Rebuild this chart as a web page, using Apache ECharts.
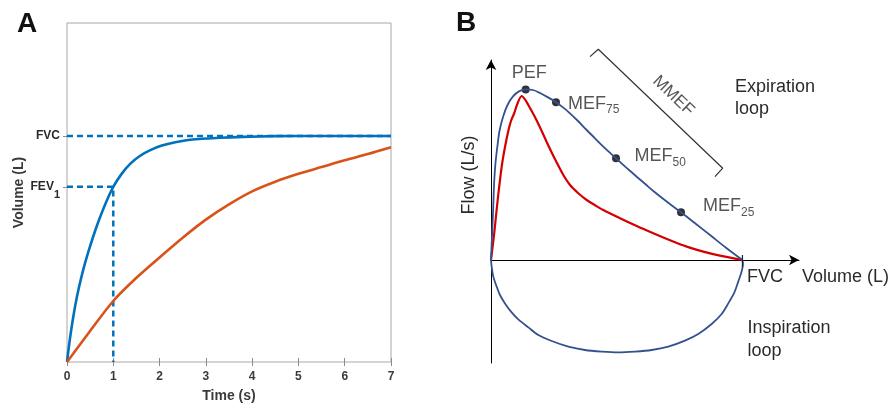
<!DOCTYPE html>
<html>
<head>
<meta charset="utf-8">
<script src="https://cdn.jsdelivr.net/npm/echarts@6/dist/echarts.min.js"></script>
<style>html,body{margin:0;padding:0;background:#fff}#c{width:891px;height:408px}</style>
</head>
<body>
<div id="c"></div>
<script>
// ---------- Panel A : volume-time ----------
const timeTicks = [0, 1, 2, 3, 4, 5, 6, 7];
const volumeTickValues = [3.1, 4.0];
const volumeTickNames = ['FEV1', 'FVC'];
const fvcA = 4.0;
const fev1A = 3.1;
const normalVolume = [[0,0],[0.05,0.33],[0.108,0.66],[0.18,1.01],[0.253,1.30],[0.35,1.63],[0.454,1.93],[0.57,2.23],[0.685,2.50],[0.84,2.82],[1.0,3.1],[1.18,3.33],[1.37,3.51],[1.58,3.65],[1.8,3.75],[2.05,3.83],[2.34,3.89],[2.62,3.93],[2.92,3.95],[3.3,3.97],[3.8,3.985],[4.5,3.997],[5.5,4.0],[7,4.0]];
const obstructedVolume = [[0,0],[0.5,0.55],[1,1.08],[1.5,1.49],[2,1.85],[2.5,2.2],[3,2.52],[3.5,2.79],[4,3.02],[4.5,3.19],[5,3.33],[5.5,3.45],[6,3.57],[6.5,3.68],[7,3.8]];

// ---------- Panel B : flow-volume ----------
const fvcB = 4.98;
const normalExpiration = [[0,0],[0.012,0.75],[0.026,1.5],[0.040,2.35],[0.051,3.15],[0.065,4.0],[0.089,4.85],[0.125,5.65],[0.168,6.45],[0.238,7.15],[0.327,7.75],[0.436,8.18],[0.555,8.43],[0.687,8.53],[0.832,8.5],[0.970,8.35],[1.129,8.13],[1.287,7.89],[1.426,7.63],[1.564,7.335],[1.723,6.95],[1.895,6.5],[2.06,6.085],[2.224,5.665],[2.476,5.085],[2.674,4.635],[2.886,4.165],[3.05,3.81],[3.214,3.45],[3.486,2.91],[3.763,2.385],[4.06,1.8],[4.357,1.21],[4.654,0.615],[4.98,0]];
const obstructedExpiration = [[0,0],[0.036,0.75],[0.071,1.5],[0.105,2.35],[0.139,3.15],[0.178,4.0],[0.222,4.85],[0.277,5.65],[0.347,6.5],[0.396,6.95],[0.461,7.35],[0.521,7.8],[0.608,8.2],[0.673,8.03],[0.739,7.75],[0.822,7.375],[0.905,6.975],[1.004,6.45],[1.103,5.9],[1.202,5.375],[1.301,4.875],[1.432,4.25],[1.565,3.75],[1.729,3.34],[1.895,3.0],[2.06,2.74],[2.224,2.5],[2.555,2.09],[2.886,1.70],[3.214,1.34],[3.545,0.99],[3.876,0.67],[4.204,0.42],[4.534,0.22],[4.98,0]];
const inspiration = [[0,0],[0.013,-0.33],[0.046,-0.83],[0.112,-1.33],[0.178,-1.75],[0.277,-2.17],[0.409,-2.62],[0.541,-2.97],[0.739,-3.37],[0.937,-3.75],[1.201,-4.05],[1.531,-4.33],[1.861,-4.5],[2.191,-4.58],[2.521,-4.62],[2.851,-4.58],[3.182,-4.5],[3.511,-4.33],[3.842,-4.03],[4.105,-3.7],[4.37,-3.2],[4.568,-2.7],[4.699,-2.17],[4.818,-1.63],[4.897,-1.08],[4.964,-0.58],[4.99,-0.2],[4.98,0]];
const keyPointNames = ['PEF', 'MEF75', 'MEF50', 'MEF25'];
const keyPointValues = [[0.687,8.53],[1.287,7.89],[2.476,5.085],[3.763,2.385]];
const mmefBracket = [[1.961,10.17],[2.125,10.54],[4.589,4.59],[4.436,4.17]];
const mmefLabelAt = [3.611, 8.21];
const fvcTick = [[fvcB,0.25],[fvcB,-0.35]];

const FONT = 'Liberation Sans, Arial, sans-serif';
const TXT = '#2a2a2a';
const A_BLUE = '#0072BD', A_ORANGE = '#D95319';
const B_BLUE = '#34518f', B_RED = '#d40000';

// label placement per key point
const keyLabelStyle = [
  {position: 'inside', offset: [3.6, -16]},
  {position: 'right', distance: 8, offset: [0, 1.5]},
  {position: 'right', distance: 8, offset: [6.5, -2.1]},
  {position: 'right', distance: 8, offset: [10, -6]}
];

function keyLabelText(name) {
  const m = name.match(/^([A-Z]+)(\d*)$/);
  return m[2] ? '{m|' + m[1] + '}{s|' + m[2] + '}' : '{m|' + m[1] + '}';
}

const chart = echarts.init(document.getElementById('c'), null, {renderer: 'canvas'});
const option = {
  animation: false,
  backgroundColor: '#fff',
  grid: [
    {left: 67, top: 23, width: 324, height: 343, show: true, borderColor: '#a8a8a8', borderWidth: 1, backgroundColor: 'transparent'},
    {left: 491, top: 60, width: 308, height: 303}
  ],
  xAxis: [
    {gridIndex: 0, type: 'value', min: timeTicks[0], max: timeTicks[timeTicks.length - 1], interval: 1, position: 'bottom',
     axisLine: {show: false}, axisTick: {inside: true, length: 4, lineStyle: {color: '#8a8a8a'}},
     axisLabel: {color: '#3a3a3a', fontSize: 12, fontWeight: 'bold', fontFamily: FONT, margin: 9},
     splitLine: {show: false},
     name: 'Time (s)', nameLocation: 'middle', nameGap: 27,
     nameTextStyle: {color: '#3a3a3a', fontSize: 14, fontWeight: 'bold', fontFamily: FONT}},
    {gridIndex: 0, type: 'value', min: timeTicks[0], max: timeTicks[timeTicks.length - 1], interval: 1, position: 'top',
     axisLine: {show: false}, axisTick: {inside: true, length: 4, lineStyle: {color: '#8a8a8a'}},
     axisLabel: {show: false}, splitLine: {show: false}},
    {gridIndex: 1, type: 'value', min: 0, max: 6.1,
     axisLine: {show: true, onZero: true, symbol: ['none', 'arrow'], symbolSize: [8, 10], lineStyle: {color: '#000', width: 1}},
     axisTick: {show: false}, axisLabel: {show: false}, splitLine: {show: false}}
  ],
  yAxis: [
    {gridIndex: 0, type: 'value', min: 0, max: 6, position: 'left',
     axisLine: {show: false},
     axisTick: {show: true, inside: true, length: 4, customValues: volumeTickValues, lineStyle: {color: '#8a8a8a'}},
     axisLabel: {customValues: volumeTickValues, margin: 7,
       formatter: function (v) {
         const i = volumeTickValues.indexOf(v);
         const n = volumeTickNames[i] || '';
         const m = n.match(/^([A-Z]+)(\d*)$/);
         return m && m[2] ? '{b|' + m[1] + '}{s|' + m[2] + '}' : '{b|' + n + '}';
       },
       rich: {
         b: {fontSize: 12, fontWeight: 'bold', color: TXT, fontFamily: FONT, lineHeight: 28},
         s: {fontSize: 11, fontWeight: 'bold', color: TXT, fontFamily: FONT, lineHeight: 13, verticalAlign: 'bottom'}
       }},
     splitLine: {show: false},
     name: 'Volume (L)', nameLocation: 'middle', nameGap: 41, nameRotate: 90,
     nameTextStyle: {color: '#3a3a3a', fontSize: 14, fontWeight: 'bold', fontFamily: FONT}},
    {gridIndex: 0, type: 'value', min: 0, max: 6, position: 'right',
     axisLine: {show: false},
     axisTick: {show: true, inside: true, length: 4, customValues: volumeTickValues, lineStyle: {color: '#8a8a8a'}},
     axisLabel: {show: false}, splitLine: {show: false}},
    {gridIndex: 1, type: 'value', min: -5.15, max: 10,
     axisLine: {show: true, onZero: true, symbol: ['none', 'arrow'], symbolSize: [8, 10], lineStyle: {color: '#000', width: 1}},
     axisTick: {show: false}, axisLabel: {show: false}, splitLine: {show: false}}
  ],
  series: [
    {type: 'line', xAxisIndex: 0, yAxisIndex: 0, symbol: 'none', silent: true,
     data: [[timeTicks[0], fvcA], [timeTicks[timeTicks.length - 1], fvcA]],
     lineStyle: {color: A_BLUE, width: 2.5, type: [6, 4]}},
    {type: 'line', xAxisIndex: 0, yAxisIndex: 0, symbol: 'none', silent: true,
     data: [[0, fev1A], [1, fev1A], [1, 0]],
     lineStyle: {color: A_BLUE, width: 2.5, type: [6, 4]}},
    {type: 'line', xAxisIndex: 0, yAxisIndex: 0, symbol: 'none', smooth: 0.3, data: normalVolume,
     lineStyle: {color: A_BLUE, width: 2.6}},
    {type: 'line', xAxisIndex: 0, yAxisIndex: 0, symbol: 'none', smooth: 0.3, data: obstructedVolume,
     lineStyle: {color: A_ORANGE, width: 2.6}},

    {type: 'line', xAxisIndex: 2, yAxisIndex: 2, symbol: 'none', smooth: 0.3, data: obstructedExpiration,
     lineStyle: {color: B_RED, width: 2.2}},
    {type: 'line', xAxisIndex: 2, yAxisIndex: 2, symbol: 'none', smooth: 0.3, data: normalExpiration,
     lineStyle: {color: B_BLUE, width: 1.8}},
    {type: 'line', xAxisIndex: 2, yAxisIndex: 2, symbol: 'none', smooth: 0.3, data: inspiration,
     lineStyle: {color: B_BLUE, width: 1.8}},
    {type: 'line', xAxisIndex: 2, yAxisIndex: 2, symbol: 'none', data: fvcTick, clip: false,
     lineStyle: {color: '#222', width: 1.2}},
    {type: 'line', xAxisIndex: 2, yAxisIndex: 2, symbol: 'none', data: mmefBracket, clip: false,
     lineStyle: {color: '#333', width: 1.2}},
    {type: 'scatter', xAxisIndex: 2, yAxisIndex: 2, symbol: 'circle', symbolSize: 8, clip: false,
     itemStyle: {color: '#000'},
     data: keyPointNames.map((n, i) => ({
       name: n, value: keyPointValues[i],
       label: Object.assign({show: true, formatter: keyLabelText(n)}, keyLabelStyle[i])
     })),
     label: {show: true, rich: {
       m: {fontSize: 18, color: TXT, fontFamily: FONT, lineHeight: 24},
       s: {fontSize: 12, color: TXT, fontFamily: FONT, lineHeight: 15, verticalAlign: 'bottom'}
     }}},
    {type: 'scatter', xAxisIndex: 2, yAxisIndex: 2, symbolSize: 0, clip: false, silent: true,
     data: [{name: 'MMEF', value: mmefLabelAt}],
     label: {show: true, position: 'inside', formatter: '{b}', rotate: -43.7,
       fontSize: 17, color: TXT, fontFamily: FONT}}
  ],
  graphic: [
    {type: 'text', x: 17, y: 24, style: {text: 'A', fontSize: 28, fontWeight: 'bold', fontFamily: FONT, fill: '#111', align: 'left', verticalAlign: 'middle'}},
    {type: 'text', x: 456, y: 23, style: {text: 'B', fontSize: 28, fontWeight: 'bold', fontFamily: FONT, fill: '#111', align: 'left', verticalAlign: 'middle'}},
    {type: 'text', x: 469.3, y: 175, rotation: Math.PI / 2, style: {text: 'Flow (L/s)', fontSize: 18, fontFamily: FONT, fill: TXT, align: 'center', verticalAlign: 'middle'}},
    {type: 'text', x: 735, y: 87, style: {text: 'Expiration', fontSize: 18, fontFamily: FONT, fill: TXT, align: 'left', verticalAlign: 'middle'}},
    {type: 'text', x: 735, y: 109, style: {text: 'loop', fontSize: 18, fontFamily: FONT, fill: TXT, align: 'left', verticalAlign: 'middle'}},
    {type: 'text', x: 747, y: 277, style: {text: 'FVC', fontSize: 18, fontFamily: FONT, fill: TXT, align: 'left', verticalAlign: 'middle'}},
    {type: 'text', x: 802, y: 277.5, style: {text: 'Volume (L)', fontSize: 18, fontFamily: FONT, fill: TXT, align: 'left', verticalAlign: 'middle'}},
    {type: 'text', x: 747.5, y: 328.5, style: {text: 'Inspiration', fontSize: 18, fontFamily: FONT, fill: TXT, align: 'left', verticalAlign: 'middle'}},
    {type: 'text', x: 747.5, y: 351, style: {text: 'loop', fontSize: 18, fontFamily: FONT, fill: TXT, align: 'left', verticalAlign: 'middle'}}
  ]
};
chart.setOption(option);
</script>
</body>
</html>
